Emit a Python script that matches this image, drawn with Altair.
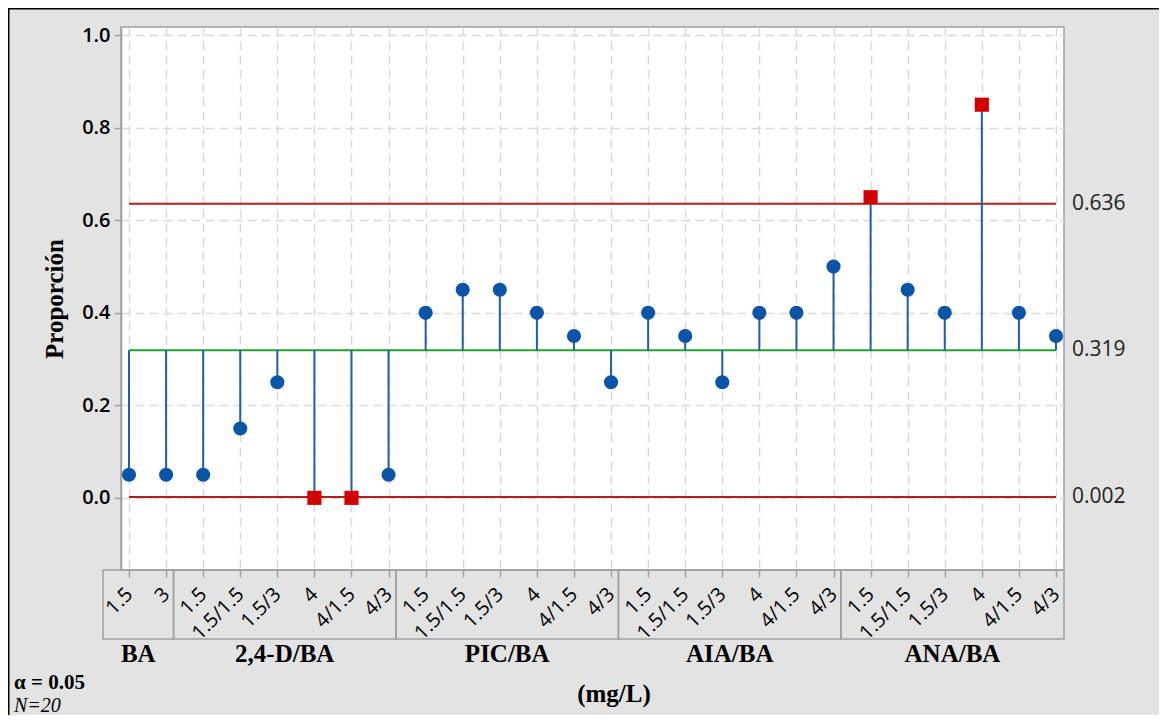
import json
import altair as alt
import pandas as pd

# ---------------- data ----------------
group_names = ["BA", "2,4-D/BA", "PIC/BA", "AIA/BA", "ANA/BA"]
group_concentrations = [
    ["1.5", "3"],
    ["1.5", "1.5/1.5", "1.5/3", "4", "4/1.5", "4/3"],
    ["1.5", "1.5/1.5", "1.5/3", "4", "4/1.5", "4/3"],
    ["1.5", "1.5/1.5", "1.5/3", "4", "4/1.5", "4/3"],
    ["1.5", "1.5/1.5", "1.5/3", "4", "4/1.5", "4/3"],
]
proportions = [
    0.05, 0.05,
    0.05, 0.15, 0.25, 0.00, 0.00, 0.05,
    0.40, 0.45, 0.45, 0.40, 0.35, 0.25,
    0.40, 0.35, 0.25, 0.40, 0.40, 0.50,
    0.65, 0.45, 0.40, 0.85, 0.40, 0.35,
]
lcl = 0.002
center = 0.319
ucl = 0.636
limit_names = ["UCL", "CL", "LCL"]
limit_values = [ucl, center, lcl]
alpha_text = "α = 0.05"
n_text = "N=20"
x_title = "(mg/L)"
y_title = "Proporción"

# ---------------- tables ----------------
sub_labels = [c for g in group_concentrations for c in g]
group_of = [name for name, g in zip(group_names, group_concentrations) for _ in g]
n = len(sub_labels)
pts = pd.DataFrame({
    "idx": list(range(n)),
    "label": sub_labels,
    "group": group_of,
    "p": proportions,
})
pts["center"] = center
pts["out"] = (pts["p"] > ucl) | (pts["p"] < lcl)

rows = []
start = 0
for gi, (name, g) in enumerate(zip(group_names, group_concentrations)):
    end = start + len(g) - 1
    left = -0.7 if gi == 0 else rows[-1]["right"]
    right = end + 0.2 if gi < len(group_names) - 1 else n - 1 + 0.216
    rows.append({"group": name, "left": left, "right": right, "mid": (left + right) / 2})
    start = end + 1
boxes = pd.DataFrame(rows)

limits = pd.DataFrame({
    "name": limit_names,
    "value": limit_values,
    "x0": 0,
    "x1": n - 1,
    "txt": [f"{v:.3f}" for v in limit_values],
})

# ---------------- scales / axes ----------------
PW, PH = 943, 543
x_scale = alt.Scale(domain=[-0.216, n - 1 + 0.216], nice=False, zero=False)
y_scale = alt.Scale(domain=[-0.156, 1.018], nice=False, zero=False)

label_expr = "[" + ",".join(json.dumps(s) for s in sub_labels) + "][datum.value]"

GRID = "#dadada"
GRAY = "#a0a0a0"

x_axis = alt.Axis(
    values=list(range(n)), labelExpr=label_expr, title=None, domain=False,
    labelAngle=315, labelAlign="right", labelBaseline="middle",
    labelFont="Open Sans", labelFontSize=20, labelColor="black",
    labelPadding=14, labelOverlap=False, labelFlush=False,
    tickColor=GRAY, tickSize=7, tickWidth=1.5,
    grid=True, gridColor=GRID, gridDash=[9, 5], gridWidth=1.5,
)
y_axis = alt.Axis(
    values=[0, 0.2, 0.4, 0.6, 0.8, 1.0], format=".1f", title=y_title,
    titleFont="Liberation Serif", titleFontSize=25, titleFontWeight="bold",
    titleColor="black", titlePadding=14,
    labelFont="Open Sans", labelFontSize=20, labelFontWeight=600,
    labelColor="black", labelPadding=4,
    tickColor=GRAY, tickSize=7, tickWidth=1.5, domainColor=GRAY, domainWidth=1.5,
    grid=True, gridColor=GRID, gridDash=[9, 5], gridWidth=1.5,
)


def X(field):
    return alt.X(field, scale=x_scale, axis=x_axis)


def Y(field):
    return alt.Y(field, scale=y_scale, axis=y_axis)


base = alt.Chart(pts)

stems = base.mark_rule(color="#1f5faa", strokeWidth=2).encode(
    x=X("idx:Q"), y=Y("center:Q"), y2="p:Q",
)

limit_rules = alt.Chart(limits).mark_rule(strokeWidth=2).encode(
    x=X("x0:Q"), x2="x1:Q", y=Y("value:Q"),
    color=alt.Color("name:N", scale=alt.Scale(domain=limit_names,
                    range=["#b0201e", "#24a034", "#b0201e"]), legend=None),
)

limit_text = alt.Chart(limits).mark_text(
    align="left", baseline="middle", font="Open Sans", fontSize=21, color="#222222"
).encode(
    x=alt.value(PW + 8), y=Y("value:Q"), text="txt:N",
)

dots_in = base.transform_filter("!datum.out").mark_point(
    shape="circle", filled=True, size=200, color="#0a55a8", opacity=1
).encode(x=X("idx:Q"), y=Y("p:Q"))

dots_out = base.transform_filter("datum.out").mark_point(
    shape="square", filled=True, size=200, color="#d40000", opacity=1
).encode(x=X("idx:Q"), y=Y("p:Q"))

box_rects = alt.Chart(boxes).mark_rect(
    fill="transparent", stroke=GRAY, strokeWidth=1.5
).encode(
    x=X("left:Q"), x2="right:Q",
    y=alt.value(PH), y2=alt.value(PH + 69),
)

group_text = alt.Chart(boxes).mark_text(
    font="Liberation Serif", fontSize=25, fontWeight="bold", color="black",
    align="center", baseline="alphabetic"
).encode(
    x=X("mid:Q"), y=alt.value(PH + 92), text="group:N",
)

x_title_text = alt.Chart(pd.DataFrame({"t": [x_title]})).mark_text(
    font="Liberation Serif", fontSize=25, fontWeight="bold", color="black",
    align="center", baseline="middle"
).encode(x=alt.value(493), y=alt.value(PH + 124), text="t:N")

alpha_mark = alt.Chart(pd.DataFrame({"t": [alpha_text]})).mark_text(
    font="Liberation Serif", fontSize=21, fontWeight="bold", color="black",
    align="left", baseline="alphabetic"
).encode(x=alt.value(-107), y=alt.value(PH + 119), text="t:N")

n_mark = alt.Chart(pd.DataFrame({"t": [n_text]})).mark_text(
    font="Liberation Serif", fontSize=20, fontStyle="italic", color="black",
    align="left", baseline="alphabetic"
).encode(x=alt.value(-107), y=alt.value(PH + 142), text="t:N")

frame = alt.Chart(pd.DataFrame({"a": [0]})).mark_rect(
    fill="transparent", stroke="black", strokeWidth=2
).encode(
    x=alt.value(-112.5), x2=alt.value(2000),
    y=alt.value(-18.5), y2=alt.value(2000),
)

chart = alt.layer(
    limit_rules, stems, dots_in, dots_out, limit_text,
    box_rects, group_text, x_title_text, alpha_mark, n_mark, frame,
).properties(
    width=PW, height=PH,
    autosize=alt.AutoSizeParams(type="none"),
    padding={"left": 113, "top": 19, "right": 95, "bottom": 145},
    background="#e3e3e3",
).configure_view(stroke=GRAY, strokeWidth=1.5, fill="white")

chart.save("out.html", embed_options={"renderer": "svg", "actions": False})
